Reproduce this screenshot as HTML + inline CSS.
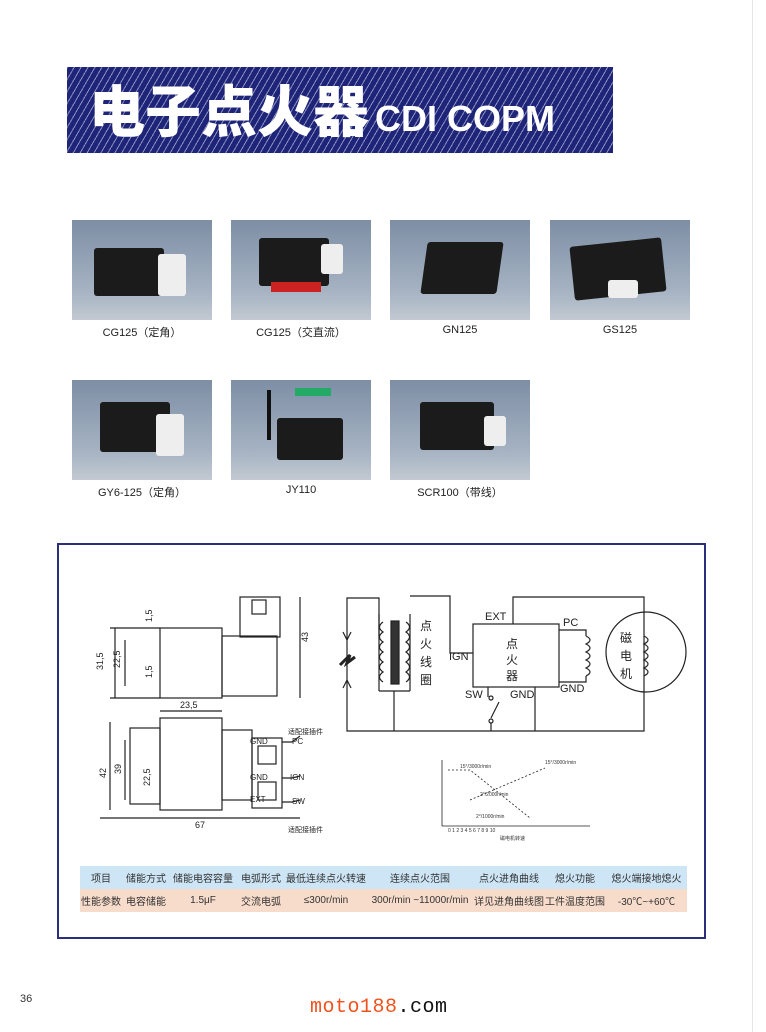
<!DOCTYPE html>
<html><head><meta charset="utf-8"><style>
body{margin:0;width:766px;height:1032px;background:#fff;position:relative;overflow:hidden;font-family:"Liberation Sans","Noto Sans CJK SC",sans-serif}
.banner{position:absolute;left:67px;top:67px;width:546px;height:86px;background:repeating-linear-gradient(-60deg,#1e2478 0 5px,#8a8fc0 5px 6px)}
.banner .t{position:absolute;left:22px;top:10px;color:#fff;font-weight:900;font-size:56px;letter-spacing:0px;font-family:"Noto Sans CJK SC",sans-serif;line-height:64px}
.banner .e{position:absolute;left:308px;top:30px;color:#fff;font-size:36px;font-weight:bold;line-height:44px}
.ph{position:absolute;width:140px;height:100px;background:linear-gradient(#7d8ea5,#a5b2c2 70%,#c2c9d2)}
.lb{position:absolute;width:140px;text-align:center;font-size:11px;color:#222}
.box{position:absolute;background:#1b1b1b;border-radius:3px}
.wh{position:absolute;background:#eee;border-radius:3px}
.frame{position:absolute;left:57px;top:543px;width:645px;height:392px;border:2px solid #2a2e7c}
table{position:absolute;left:80px;top:866px;width:607px;border-collapse:collapse;font-size:10px;text-align:center;color:#333;table-layout:fixed}
td{height:23px;padding:0;white-space:nowrap;overflow:hidden}
tr.h td{background:#cde5f5}tr.v td{background:#f8dccb}
</style></head><body>
<div style="position:absolute;left:752px;top:0;width:1px;height:1032px;background:#e6e6e6"></div>
<div class="banner"><div class="t">电子点火器</div><div class="e">CDI COPM</div></div>

<div class="ph" style="left:72px;top:220px"><div class="box" style="left:22px;top:28px;width:70px;height:48px"></div><div class="wh" style="left:86px;top:34px;width:28px;height:42px"></div></div>
<div class="ph" style="left:231px;top:220px"><div class="box" style="left:28px;top:18px;width:70px;height:48px"></div><div class="wh" style="left:90px;top:24px;width:22px;height:30px"></div><div style="position:absolute;left:40px;top:62px;width:50px;height:10px;background:#c22"></div></div>
<div class="ph" style="left:390px;top:220px"><div class="box" style="left:34px;top:22px;width:76px;height:52px;transform:skewX(-8deg)"></div></div>
<div class="ph" style="left:550px;top:220px"><div class="box" style="left:22px;top:22px;width:92px;height:54px;transform:rotate(-6deg)"></div><div class="wh" style="left:58px;top:60px;width:30px;height:18px"></div></div>
<div class="lb" style="left:72px;top:324px">CG125（定角）</div>
<div class="lb" style="left:231px;top:324px">CG125（交直流）</div>
<div class="lb" style="left:390px;top:324px">GN125</div>
<div class="lb" style="left:550px;top:324px">GS125</div>

<div class="ph" style="left:72px;top:380px"><div class="box" style="left:28px;top:22px;width:70px;height:50px"></div><div class="wh" style="left:84px;top:34px;width:28px;height:42px"></div></div>
<div class="ph" style="left:231px;top:380px"><div class="box" style="left:46px;top:38px;width:66px;height:42px"></div><div style="position:absolute;left:36px;top:10px;width:4px;height:50px;background:#111"></div><div style="position:absolute;left:64px;top:8px;width:36px;height:8px;background:#2a6"></div></div>
<div class="ph" style="left:390px;top:380px"><div class="box" style="left:30px;top:22px;width:74px;height:48px"></div><div class="wh" style="left:94px;top:36px;width:22px;height:30px"></div></div>
<div class="lb" style="left:72px;top:484px">GY6-125（定角）</div>
<div class="lb" style="left:231px;top:484px">JY110</div>
<div class="lb" style="left:390px;top:484px">SCR100（带线）</div>

<div class="frame"></div>
<svg style="position:absolute;left:0;top:0" width="766" height="1032" fill="none" stroke="#222" stroke-width="1.2" font-family="Liberation Sans,Noto Sans CJK SC,sans-serif">
<rect x="160" y="628" width="62" height="70"/><rect x="222" y="636" width="55" height="60"/><rect x="240" y="597" width="40" height="40"/>
<rect x="252" y="600" width="14" height="14"/>
<line x1="110" y1="628" x2="160" y2="628"/><line x1="110" y1="698" x2="160" y2="698"/><line x1="115" y1="628" x2="115" y2="698"/>
<line x1="125" y1="640" x2="125" y2="686"/><line x1="300" y1="597" x2="300" y2="698"/>
<g stroke="none" fill="#222" font-size="9">
<text x="103" y="670" transform="rotate(-90 103 670)">31,5</text><text x="120" y="668" transform="rotate(-90 120 668)">22,5</text>
<text x="152" y="622" transform="rotate(-90 152 622)">1,5</text><text x="152" y="678" transform="rotate(-90 152 678)">1,5</text>
<text x="308" y="642" transform="rotate(-90 308 642)">43</text></g>
<rect x="160" y="718" width="62" height="92"/><rect x="222" y="730" width="30" height="70"/><rect x="130" y="728" width="30" height="76"/>
<rect x="252" y="738" width="30" height="70"/><rect x="258" y="746" width="18" height="18"/><rect x="258" y="782" width="18" height="18"/>
<line x1="160" y1="711" x2="222" y2="711"/><line x1="110" y1="722" x2="110" y2="810"/><line x1="125" y1="740" x2="125" y2="800"/>
<line x1="100" y1="818" x2="300" y2="818"/>
<polyline points="282,742 292,742 300,736"/><polyline points="282,778 292,778 300,776"/><polyline points="282,802 292,802 300,800"/>
<g stroke="none" fill="#222" font-size="9">
<text x="180" y="708">23,5</text><text x="106" y="778" transform="rotate(-90 106 778)">42</text><text x="121" y="774" transform="rotate(-90 121 774)">39</text>
<text x="150" y="786" transform="rotate(-90 150 786)">22,5</text><text x="195" y="828">67</text>
<text x="288" y="734" font-size="7">适配接插件</text><text x="288" y="832" font-size="7">适配接插件</text>
<text x="250" y="744" font-size="8">GND</text><text x="250" y="780" font-size="8">GND</text><text x="250" y="802" font-size="8">EXT</text>
<text x="292" y="744" font-size="8">PC</text><text x="290" y="780" font-size="8">IGN</text><text x="292" y="804" font-size="8">SW</text></g>
<polyline points="379,636 379,598 347,598 347,731 644,731 644,597 513,597 513,624"/>
<polyline points="410,596 450,596 450,653 473,653"/>
<line x1="379" y1="691" x2="410" y2="691"/><line x1="379" y1="614" x2="379" y2="691"/><line x1="410" y1="614" x2="410" y2="691"/>
<line x1="394" y1="691" x2="394" y2="731"/>
<rect x="391" y="621" width="8" height="63" fill="#333"/>
<rect x="473" y="624" width="86" height="63"/>
<polyline points="559,630 586,630 586,636"/><polyline points="559,682 586,682 586,676"/>
<path d="M586 636 q8 4 0 8 q8 4 0 8 q8 4 0 8 q8 4 0 8 q8 4 0 8"/>
<path d="M383 622 q-7 5 0 10 q-7 5 0 10 q-7 5 0 10 q-7 5 0 10 q-7 5 0 10 q-7 5 0 10"/>
<path d="M406 622 q7 5 0 10 q7 5 0 10 q7 5 0 10 q7 5 0 10 q7 5 0 10 q7 5 0 10"/>
<circle cx="646" cy="652" r="40"/>
<path d="M644 636 q8 4 0 8 q8 4 0 8 q8 4 0 8 q8 4 0 8 q8 4 0 8"/>
<line x1="488" y1="687" x2="488" y2="697"/><circle cx="491" cy="698" r="2"/><line x1="491" y1="718" x2="499" y2="702"/><circle cx="491" cy="721" r="2"/><line x1="491" y1="723" x2="491" y2="731"/>
<line x1="535" y1="687" x2="535" y2="731"/>
<path d="M347 640 l-4 -8 M347 640 l4 -8 M347 680 l-4 8 M347 680 l4 8"/>
<path d="M340 665 l10 -10 l-3 8 l8 -6" stroke-width="3"/>
<g stroke="none" fill="#222" font-size="12">
<text x="420" y="630">点</text><text x="420" y="648">火</text><text x="420" y="666">线</text><text x="420" y="684">圈</text>
<text x="506" y="648">点</text><text x="506" y="664">火</text><text x="506" y="680">器</text>
<text x="620" y="642">磁</text><text x="620" y="660">电</text><text x="620" y="678">机</text>
<text x="485" y="620" font-size="11">EXT</text><text x="563" y="626" font-size="11">PC</text><text x="449" y="660" font-size="11">IGN</text>
<text x="465" y="698" font-size="11">SW</text><text x="510" y="698" font-size="11">GND</text><text x="560" y="692" font-size="11">GND</text></g>
<line x1="442" y1="826" x2="590" y2="826" stroke-width="0.8"/><line x1="442" y1="760" x2="442" y2="826" stroke-width="0.8"/>
<polyline points="448,770 470,770 530,818" stroke-width="0.8" stroke-dasharray="2 2"/><polyline points="470,800 545,768" stroke-width="0.8" stroke-dasharray="2 2"/>
<g stroke="none" fill="#333" font-size="5"><text x="448" y="832">0 1 2 3 4 5 6 7 8 9 10</text><text x="545" y="764">15°/3000r/min</text><text x="460" y="768">15°/3000r/min</text><text x="480" y="796">2°/2000r/min</text><text x="476" y="818">2°/1000r/min</text><text x="500" y="840">磁电机转速</text></g>
</svg>
<table><colgroup><col style="width:42px"><col style="width:48px"><col style="width:66px"><col style="width:50px"><col style="width:80px"><col style="width:108px"><col style="width:70px"><col style="width:62px"><col style="width:81px"></colgroup>
<tr class="h"><td>项目</td><td>储能方式</td><td>储能电容容量</td><td>电弧形式</td><td>最低连续点火转速</td><td>连续点火范围</td><td>点火进角曲线</td><td>熄火功能</td><td>熄火端接地熄火</td></tr>
<tr class="v"><td>性能参数</td><td>电容储能</td><td>1.5μF</td><td>交流电弧</td><td>≤300r/min</td><td>300r/min ~11000r/min</td><td>详见进角曲线图</td><td>工件温度范围</td><td>-30℃~+60℃</td></tr></table>
<div style="position:absolute;left:20px;top:993px;font-size:11px;color:#333">36</div>
<div style="position:absolute;left:310px;top:996px;font-size:20px;font-family:'Liberation Mono',monospace;letter-spacing:0.5px"><span style="color:#f0521e">moto188</span><span style="color:#111">.com</span></div>
</body></html>
